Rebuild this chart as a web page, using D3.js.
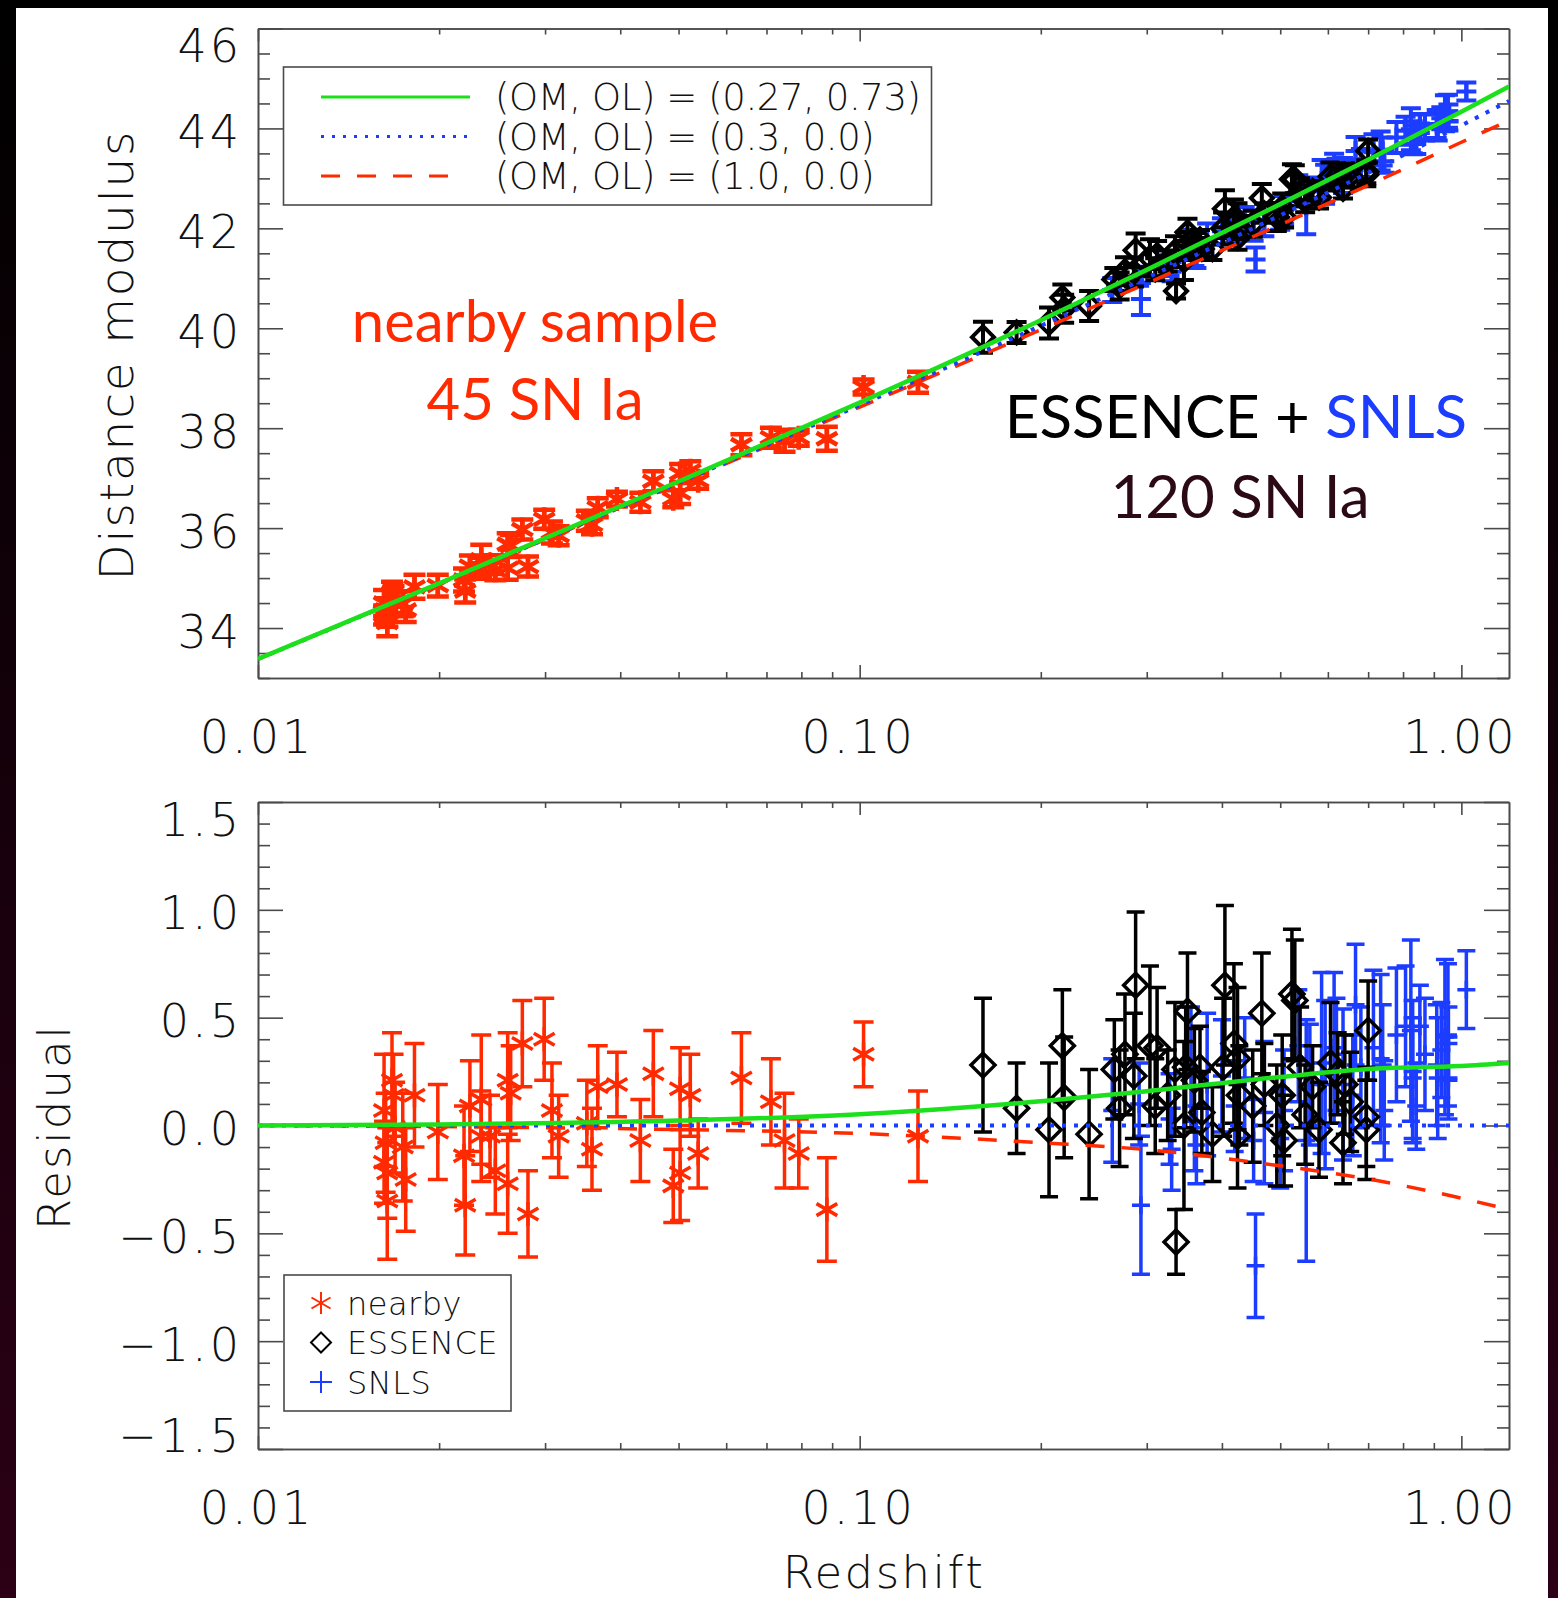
<!DOCTYPE html>
<html>
<meta charset="utf-8">
<style>
body { margin: 0; background: #000; }
svg { display: block; }
.idl { font-family: 'DejaVu Sans', 'Liberation Sans', sans-serif; font-weight: 200; fill: #111; }
.big { font-family: Lato, 'Open Sans', sans-serif; }
</style>
<body>
<script src="https://d3js.org/d3.v7.min.js"></script>
<script>

// ---- model curves ----
var zModel  = [0.01, 0.02, 0.05, 0.1, 0.2, 0.3, 0.5, 0.7, 1.0, 1.2];
var muLcdm  = [33.38, 34.895, 36.933, 38.512, 40.162, 41.169, 42.485, 43.372, 44.336, 44.84];
var muOpen  = [33.38, 34.89, 36.91, 38.46, 40.05, 41.01, 42.26, 43.11, 44.06, 44.55];
var muEds   = [33.38, 34.885, 36.891, 38.423, 39.97, 40.898, 42.073, 42.862, 43.723, 44.16];
var resLcdm = [0, 0.005, 0.023, 0.052, 0.112, 0.159, 0.225, 0.262, 0.276, 0.29];
var resOpen = [0, 0, 0, 0, 0, 0, 0, 0, 0, 0];
var resEds  = [0, -0.005, -0.019, -0.037, -0.08, -0.112, -0.187, -0.248, -0.337, -0.39];

// ---- nearby sample (45 SN Ia): redshift, residual, error ----
var zNearby = [0.0162,0.0167,0.0168,0.0163,0.0162,0.0164,0.0164,0.0174,0.0176,0.0182,0.0169,0.0199,0.0220,0.0221,0.0225,
  0.0235,0.0235,0.0243,0.0248,0.0260,0.0263,0.0260,0.0275,0.0281,0.0299,0.0308,0.0316,0.0352,0.0359,0.0367,
  0.0395,0.0432,0.0454,0.0490,0.0503,0.0503,0.0523,0.0539,0.0636,0.0712,0.0750,0.0792,0.0882,0.1015,0.1250];
var resNearby = [0.07,0.21,0.14,-0.08,-0.17,-0.22,-0.35,-0.10,-0.25,0.14,-0.01,-0.03,-0.14,-0.37,0.09,
  0.12,-0.05,-0.05,-0.21,0.21,0.15,-0.27,0.38,-0.41,0.40,0.07,-0.05,0.01,-0.11,0.18,
  0.19,-0.07,0.24,-0.28,-0.22,0.17,0.14,-0.13,0.22,0.11,-0.07,-0.13,-0.39,0.33,-0.05];
var errNearby = [0.26,0.22,0.19,0.23,0.19,0.21,0.27,0.25,0.24,0.24,0.21,0.22,0.23,0.23,0.21,
  0.30,0.21,0.19,0.20,0.22,0.22,0.23,0.20,0.20,0.19,0.22,0.19,0.20,0.19,0.19,
  0.15,0.19,0.20,0.17,0.22,0.19,0.19,0.16,0.21,0.20,0.22,0.16,0.24,0.15,0.21];

// ---- ESSENCE ----
var zEssence = [0.1603,0.1823,0.2064,0.2172,0.2187,0.2406,0.2704,0.2760,0.2875,0.2856,0.3037,0.3121,0.3099,0.3342,0.3356,
  0.3459,0.3506,0.3482,0.3678,0.3704,0.3857,0.4046,0.4018,0.4188,0.4246,0.4276,0.4246,0.4660,0.4705,0.4935,
  0.5038,0.5074,0.5229,0.5287,0.5395,0.5659,0.6061,0.6229,0.6535,0.6358,0.6999,0.6951,0.6951,0.6402,
  0.2650,0.3600,0.4500,0.5500,0.3250,0.5800];
var resEssence = [0.28,0.08,-0.02,0.37,0.13,-0.04,0.08,0.33,0.65,0.23,0.37,0.36,0.09,0.26,-0.54,
  0.00,0.53,0.27,0.27,0.06,-0.04,0.65,0.27,0.38,-0.05,0.14,0.31,0.52,0.19,0.00,
  0.14,-0.07,0.61,0.58,0.27,0.18,0.29,0.24,0.11,-0.08,0.44,0.04,-0.02,0.19,
  0.26,0.21,0.09,0.05,0.14,-0.02];
var errEssence = [0.31,0.21,0.31,0.26,0.28,0.30,0.27,0.28,0.34,0.29,0.37,0.28,0.22,0.31,0.15,
  0.39,0.27,0.28,0.19,0.19,0.22,0.37,0.32,0.37,0.24,0.23,0.33,0.28,0.19,0.28,
  0.28,0.21,0.30,0.28,0.28,0.19,0.28,0.19,0.23,0.19,0.23,0.23,0.23,0.23,
  0.23,0.24,0.26,0.23,0.21,0.22];

// ---- SNLS ----
var zSnls = [0.2934,0.4549,0.5523,0.2629,0.2914,0.3274,0.3553,0.3628,0.3780,0.4364,0.4516,0.4705,0.5074,0.5358,0.5858,
  0.5937,0.6145,0.6358,0.6670,0.6808,0.7143,0.7343,0.7445,0.8077,0.8243,0.8300,0.8415,0.8532,0.9135,0.9391,
  0.9262,0.9517,1.0193,0.9517,0.3600,0.4000,0.3300,0.4200,0.5000,0.5600,0.6200,0.6600,0.7400,0.7800,
  0.8300,0.8700,0.9100,0.9500];
var resSnls = [-0.37,-0.65,-0.07,0.07,0.10,0.03,0.27,-0.09,0.19,0.22,-0.07,0.06,0.07,0.37,0.29,
  0.19,0.36,0.19,0.56,0.27,0.36,0.31,0.07,0.46,0.44,0.22,0.09,0.46,0.22,0.41,
  0.35,0.22,0.63,0.38,0.02,0.23,-0.11,0.09,-0.06,0.19,0.33,0.14,0.28,0.42,
  0.25,0.33,0.28,0.42];
var errSnls = [0.32,0.24,0.56,0.24,0.19,0.21,0.28,0.18,0.33,0.28,0.19,0.33,0.28,0.26,0.42,
  0.39,0.35,0.35,0.28,0.28,0.36,0.39,0.23,0.28,0.42,0.28,0.20,0.19,0.28,0.36,
  0.22,0.19,0.18,0.17,0.23,0.26,0.19,0.21,0.23,0.28,0.26,0.28,0.28,0.31,
  0.33,0.26,0.28,0.33];

// ---- ticks ----
var xTickVals = [0.01, 0.1, 1];
var xTickLabels = ["0.01", "0.10", "1.00"];
var muTickVals = [34, 36, 38, 40, 42, 44, 46];
var muTickLabels = ["34", "36", "38", "40", "42", "44", "46"];
var resTickVals = [-1.5, -1, -0.5, 0, 0.5, 1, 1.5];
var resTickLabels = ["\u22121.5", "\u22121.0", "\u22120.5", "0.0", "0.5", "1.0", "1.5"];

var RED = "#ff2a00", BLUE = "#1c3cff", GREEN = "#1be01b", AXIS = "#4a4a4a";

var W = 1558, H = 1598;
var svg = d3.select("body").append("svg").attr("width", W).attr("height", H);

var defs = svg.append("defs");
var grad = defs.append("linearGradient").attr("id", "bg")
    .attr("x1", 0).attr("y1", 0).attr("x2", 0).attr("y2", 1);
grad.append("stop").attr("offset", "0%").attr("stop-color", "#000");
grad.append("stop").attr("offset", "100%").attr("stop-color", "#2c0016");
svg.append("rect").attr("width", W).attr("height", H).attr("fill", "url(#bg)");
svg.append("rect").attr("x", 16).attr("y", 8).attr("width", 1532).attr("height", 1590).attr("fill", "#fff");

// scales
var x = d3.scaleLog().domain([0.01, 1.2]).range([258, 1509]);
var yTop = d3.scaleLinear().domain([33, 46]).range([678, 28.5]);
var yBot = d3.scaleLinear().domain([-1.5, 1.5]).range([1449, 802]);
var muRef = d3.scaleLog().domain(zModel).range(muOpen);

var xMinor = d3.range(2, 10).map(function(k) { return k * 0.01; })
    .concat(d3.range(2, 10).map(function(k) { return k * 0.1; }));
var muMinor = d3.range(66, 93).map(function(k) { return k / 2; })
    .filter(function(v) { return muTickVals.indexOf(v) < 0; });
var resMinor = d3.range(-15, 16).filter(function(k) { return k % 5 !== 0; })
    .map(function(k) { return k / 10; });

function frame(y, yMajor, yMinor, yLabels, id) {
  var g = svg.append("g").attr("color", AXIS);
  var y0 = y.range()[0], y1 = y.range()[1], x0 = x.range()[0], x1 = x.range()[1];

  g.append("g").attr("transform", "translate(0," + y0 + ")")
      .call(d3.axisBottom(x).tickValues(xMinor).tickSize(-6).tickSizeOuter(0).tickFormat(""));
  g.append("g").attr("transform", "translate(0," + y0 + ")")
      .call(d3.axisBottom(x).tickValues(xTickVals).tickSize(-13).tickSizeOuter(0).tickFormat(""));
  g.append("g").attr("transform", "translate(0," + y1 + ")")
      .call(d3.axisTop(x).tickValues(xMinor).tickSize(-6).tickSizeOuter(0).tickFormat(""));
  g.append("g").attr("transform", "translate(0," + y1 + ")")
      .call(d3.axisTop(x).tickValues(xTickVals).tickSize(-13).tickSizeOuter(0).tickFormat(""));
  g.append("g").attr("transform", "translate(" + x0 + ",0)")
      .call(d3.axisLeft(y).tickValues(yMinor).tickSize(-12).tickSizeOuter(0).tickFormat(""));
  g.append("g").attr("transform", "translate(" + x0 + ",0)")
      .call(d3.axisLeft(y).tickValues(yMajor).tickSize(-25).tickSizeOuter(0).tickFormat(""));
  g.append("g").attr("transform", "translate(" + x1 + ",0)")
      .call(d3.axisRight(y).tickValues(yMinor).tickSize(-12).tickSizeOuter(0).tickFormat(""));
  g.append("g").attr("transform", "translate(" + x1 + ",0)")
      .call(d3.axisRight(y).tickValues(yMajor).tickSize(-25).tickSizeOuter(0).tickFormat(""));
  g.selectAll("path, line").attr("stroke-width", 1.6);

  // tick labels (end labels kept inside the frame, as in the original)
  g.selectAll(".ylab").data(yMajor).enter().append("text")
      .attr("class", "idl")
      .attr("x", 242)
      .attr("y", function(v) { return Math.max(y1 + 17, Math.min(y0 - 14, y(v) + 3)); })
      .attr("dy", "0.36em")
      .attr("text-anchor", "end")
      .style("font-size", "46px").style("letter-spacing", "3px")
      .text(function(v, i) { return yLabels[i]; });
  g.selectAll(".xlab").data(xTickVals).enter().append("text")
      .attr("class", "idl")
      .attr("x", function(v) { return x(v) - 1; })
      .attr("y", y0 + 58)
      .attr("dy", "0.36em")
      .attr("text-anchor", "middle")
      .style("font-size", "46px").style("letter-spacing", "3px")
      .text(function(v, i) { return xTickLabels[i]; });

  defs.append("clipPath").attr("id", id).append("rect")
      .attr("x", x0).attr("y", y1).attr("width", x1 - x0).attr("height", y0 - y1);
}

frame(yTop, muTickVals, muMinor, muTickLabels, "clipTop");
frame(yBot, resTickVals, resMinor, resTickLabels, "clipBot");

// markers
function asterisk(s) {
  var c = Math.cos(Math.PI / 6) * s, d = Math.sin(Math.PI / 6) * s;
  return "M0," + (-s) + "V" + s + "M" + (-c) + "," + (-d) + "L" + c + "," + d +
         "M" + (-c) + "," + d + "L" + c + "," + (-d);
}
function diamond(w, h) {
  return "M0," + (-h) + "L" + w + ",0L0," + h + "L" + (-w) + ",0Z";
}
function plus(s) {
  return "M" + (-s) + ",0H" + s + "M0," + (-s) + "V" + s;
}

function drawSet(y, zs, vals, errs, color, marker, cap, sw) {
  var g = svg.append("g").attr("stroke", color).attr("fill", "none")
      .attr("stroke-width", sw).attr("stroke-linecap", "butt");
  g.selectAll(".bar").data(zs).enter().append("path")
      .attr("d", function(z, i) {
        var px = x(z), a = y(vals[i] + errs[i]), b = y(vals[i] - errs[i]);
        return "M" + (px - cap) + "," + a + "H" + (px + cap) + "M" + px + "," + a + "V" + b +
               "M" + (px - cap) + "," + b + "H" + (px + cap);
      });
  g.selectAll(".mk").data(zs).enter().append("path")
      .attr("transform", function(z, i) { return "translate(" + x(z) + "," + y(vals[i]) + ")"; })
      .attr("d", marker);
}

function muOf(zs, res) {
  return zs.map(function(z, i) { return muRef(z) + res[i]; });
}

// top panel points
drawSet(yTop, zNearby, muOf(zNearby, resNearby), errNearby, RED, asterisk(12), 11, 4.5);
drawSet(yTop, zSnls, muOf(zSnls, resSnls), errSnls, BLUE, plus(10), 10, 4);
drawSet(yTop, zEssence, muOf(zEssence, resEssence), errEssence, "#000", diamond(11, 11), 10, 4);

// bottom panel points
drawSet(yBot, zNearby, resNearby, errNearby, RED, asterisk(12), 10, 3.5);
drawSet(yBot, zSnls, resSnls, errSnls, BLUE, plus(9), 9, 3.5);
drawSet(yBot, zEssence, resEssence, errEssence, "#000", diamond(12, 12), 9, 3.5);

// model curves
function curves(y, a, b, c, clip) {
  var g = svg.append("g").attr("clip-path", "url(#" + clip + ")").attr("fill", "none");
  var line = function(vals) {
    return d3.line().curve(d3.curveMonotoneX)
        .x(function(z) { return x(z); })
        .y(function(z, i) { return y(vals[i]); })(zModel);
  };
  g.append("path").attr("d", line(c)).attr("stroke", RED).attr("stroke-width", 3.5)
      .attr("stroke-dasharray", "19,17");
  g.append("path").attr("d", line(b)).attr("stroke", BLUE).attr("stroke-width", 4)
      .attr("stroke-dasharray", "4,8");
  g.append("path").attr("d", line(a)).attr("stroke", GREEN).attr("stroke-width", 4.5);
}
curves(yTop, muLcdm, muOpen, muEds, "clipTop");
curves(yBot, resLcdm, resOpen, resEds, "clipBot");

// top legend
var leg = svg.append("g");
leg.append("rect").attr("x", 283.5).attr("y", 67).attr("width", 648).attr("height", 138)
    .attr("fill", "#fff").attr("stroke", AXIS).attr("stroke-width", 1.6);
var legRows = [
  {label: "(OM, OL) = (0.27, 0.73)", color: GREEN, dash: null, end: 470},
  {label: "(OM, OL) = (0.3, 0.0)", color: BLUE, dash: "3,8", end: 470},
  {label: "(OM, OL) = (1.0, 0.0)", color: RED, dash: "19,17", end: 452}
];
legRows.forEach(function(r, i) {
  var yy = 97 + i * 39.5;
  leg.append("line").attr("x1", 321).attr("x2", r.end)
      .attr("y1", yy).attr("y2", yy).attr("stroke", r.color).attr("stroke-width", 3)
      .attr("stroke-dasharray", r.dash);
  leg.append("text").attr("class", "idl").attr("x", 495).attr("y", yy).attr("dy", "0.36em")
      .style("font-size", "37px").style("letter-spacing", "-0.4px").style("white-space", "pre")
      .text(r.label);
});

// bottom legend
var leg2 = svg.append("g");
leg2.append("rect").attr("x", 284).attr("y", 1275).attr("width", 227).attr("height", 136)
    .attr("fill", "#fff").attr("stroke", AXIS).attr("stroke-width", 1.6);
var leg2Rows = [
  {label: "nearby", color: RED, mk: asterisk(11)},
  {label: "ESSENCE", color: "#000", mk: diamond(10, 10)},
  {label: "SNLS", color: BLUE, mk: plus(11)}
];
leg2Rows.forEach(function(r, i) {
  var yy = 1303 + i * 39.5;
  leg2.append("path").attr("transform", "translate(321," + yy + ")").attr("d", r.mk)
      .attr("fill", "none").attr("stroke", r.color).attr("stroke-width", 2);
  leg2.append("text").attr("class", "idl").attr("x", 347).attr("y", yy).attr("dy", "0.36em")
      .style("font-size", "32px").style("letter-spacing", "0.5px").text(r.label);
});

// axis titles
svg.append("text").attr("class", "idl").attr("transform", "translate(133,355) rotate(-90)")
    .attr("text-anchor", "middle").style("font-size", "47px").style("letter-spacing", "1.8px")
    .text("Distance modulus");
svg.append("text").attr("class", "idl").attr("transform", "translate(70,1127) rotate(-90)")
    .attr("text-anchor", "middle").style("font-size", "45px").style("letter-spacing", "2px")
    .text("Residual");
svg.append("text").attr("class", "idl").attr("x", 884).attr("y", 1588)
    .attr("text-anchor", "middle").style("font-size", "45px").style("letter-spacing", "2.5px")
    .text("Redshift");

// annotations
svg.append("text").attr("class", "big").attr("x", 535).attr("y", 342).attr("text-anchor", "middle")
    .style("font-size", "58px").attr("fill", RED).text("nearby sample");
svg.append("text").attr("class", "big").attr("x", 535).attr("y", 420).attr("text-anchor", "middle")
    .style("font-size", "58px").attr("fill", RED).text("45 SN Ia");
var ess = svg.append("text").attr("class", "big").attr("x", 1467).attr("y", 438)
    .attr("text-anchor", "end").style("font-size", "60px");
ess.append("tspan").attr("fill", "#000").text("ESSENCE + ");
ess.append("tspan").attr("fill", BLUE).text("SNLS");
svg.append("text").attr("class", "big").attr("x", 1240).attr("y", 518).attr("text-anchor", "middle")
    .style("font-size", "60px").attr("fill", "#2b0a15").text("120 SN Ia");

</script>
</body>
</html>
